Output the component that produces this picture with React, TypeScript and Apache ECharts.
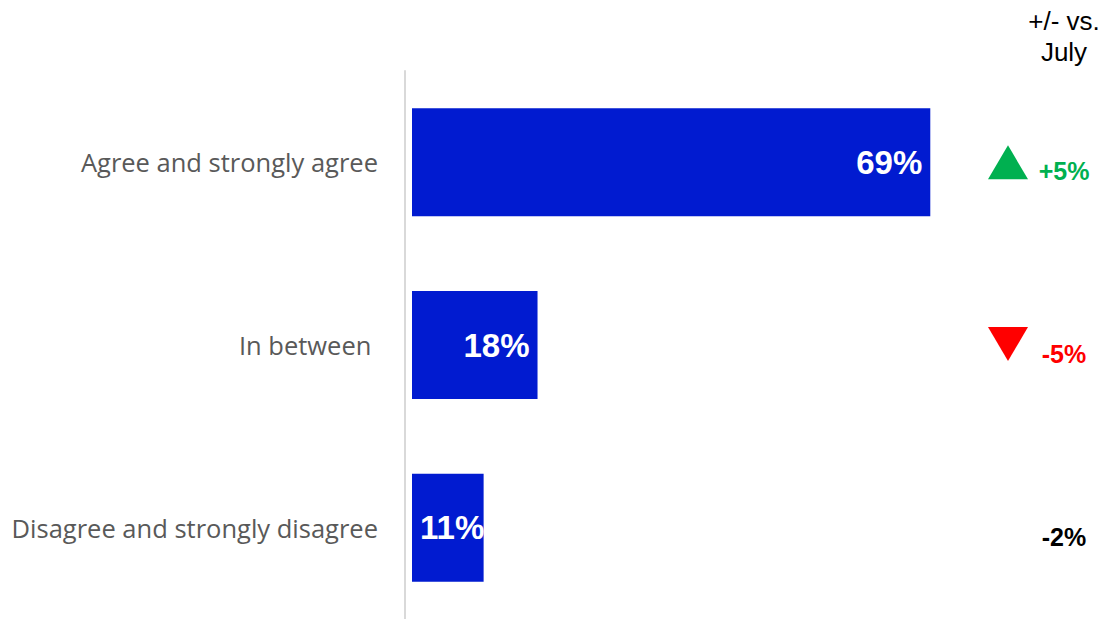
import React, { useEffect, useRef } from "react";
import * as echarts from "echarts";

const categories = ["Agree and strongly agree", "In between ", "Disagree and strongly disagree"];
const values = [69, 18, 11];
const deltaLabels = ["+5%", "-5%", "-2%"];
const deltaDirections = ["up", "down", "none"];
const headerText = "+/- vs.\nJuly";

export default function App() {
  const ref = useRef<HTMLDivElement>(null);
  useEffect(() => {
    if (!ref.current) return;
    const chart = echarts.init(ref.current, null, { renderer: "svg" });
    const barLabel = {
      show: true,
      position: "insideRight",
      distance: 8,
      formatter: "{c}%",
      color: "#ffffff",
      fontSize: 33,
      fontWeight: "bold",
      fontFamily: "Liberation Sans, Arial",
    };
    chart.setOption({
      animation: false,
      grid: { left: 412, right: 90, top: 71, bottom: -2, containLabel: false },
      xAxis: {
        type: "value",
        min: 1.7,
        max: 80,
        show: false,
      },
      yAxis: {
        type: "category",
        inverse: true,
        data: categories,
        offset: 7,
        axisLine: { show: true, lineStyle: { color: "#d9d9d9", width: 2 } },
        axisTick: { show: false },
        axisLabel: {
          margin: 27,
          color: "#595959",
          fontSize: 25.5,
          fontFamily: "Open Sans",
        },
      },
      series: [
        {
          type: "bar",
          data: values.map((v, i) =>
            i === values.length - 1
              ? { value: v, label: { ...barLabel, position: "insideLeft", distance: 8 } }
              : v
          ),
          barWidth: 108,
          itemStyle: { color: "#011BD0" },
          label: barLabel,
        },
      ],
    });

    const cx = 1008;
    const graphics: any[] = [
      {
        type: "text",
        x: 1064,
        y: 5,
        style: {
          text: headerText,
          fill: "#000000",
          font: "26px 'Liberation Sans', Arial",
          lineHeight: 31,
          textAlign: "center",
          textVerticalAlign: "top",
        },
      },
    ];
    categories.forEach((c, i) => {
      const y = chart.convertToPixel({ yAxisIndex: 0 }, c) as number;
      const dir = deltaDirections[i];
      const color = dir === "up" ? "#00B050" : dir === "down" ? "#FF0000" : "#000000";
      if (dir === "up") {
        graphics.push({
          type: "polygon",
          shape: { points: [[cx - 20, y + 17], [cx + 20, y + 17], [cx, y - 17]] },
          style: { fill: color },
        });
      } else if (dir === "down") {
        graphics.push({
          type: "polygon",
          shape: { points: [[cx - 20, y - 18], [cx + 20, y - 18], [cx, y + 16]] },
          style: { fill: color },
        });
      }
      graphics.push({
        type: "text",
        x: 1064,
        y: y + 9,
        style: {
          text: deltaLabels[i],
          fill: color,
          font: "bold 25px 'Liberation Sans', Arial",
          textAlign: "center",
          textVerticalAlign: "middle",
        },
      });
    });
    chart.setOption({ graphic: graphics });
    return () => chart.dispose();
  }, []);
  return (
    <div
      ref={ref}
      style={{ position: "fixed", left: 0, top: 0, width: 1105, height: 619, background: "#fff" }}
    />
  );
}
